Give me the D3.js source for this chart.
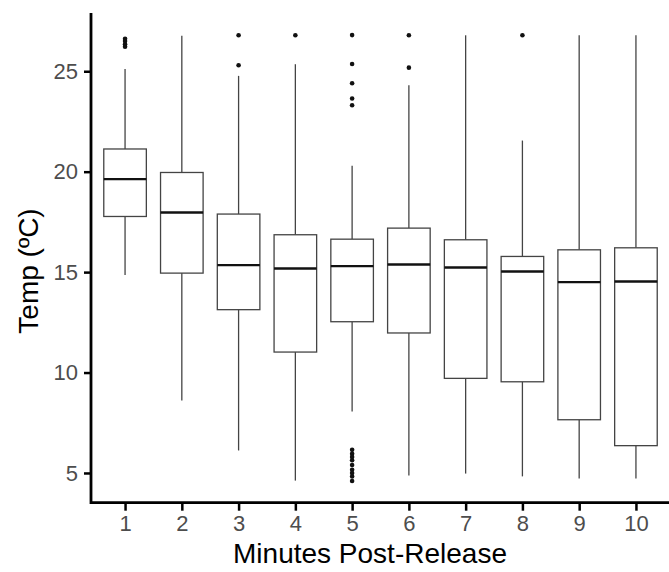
<!DOCTYPE html>
<html>
<head>
<meta charset="utf-8">
<script src="https://cdn.jsdelivr.net/npm/d3@7"></script>
<style>
  body { margin: 0; background: #fff; }
  svg { display: block; font-family: "Liberation Sans", Arial, sans-serif; }
</style>
</head>
<body>
<svg id="chart" width="669" height="572"></svg>
<script>
const minutes = [1, 2, 3, 4, 5, 6, 7, 8, 9, 10]
const whiskerLow = [14.85, 8.61, 6.12, 4.62, 8.06, 4.88, 4.97, 4.83, 4.72, 4.72]
const q1 = [17.77, 14.95, 13.13, 11.02, 12.53, 11.97, 9.71, 9.54, 7.65, 6.36]
const medians = [19.63, 17.97, 15.35, 15.18, 15.3, 15.38, 15.23, 15.03, 14.5, 14.53]
const q3 = [21.13, 19.96, 17.89, 16.86, 16.64, 17.19, 16.61, 15.78, 16.11, 16.21]
const whiskerHigh = [25.11, 26.77, 24.77, 25.35, 20.3, 24.3, 26.79, 21.55, 26.79, 26.79]

// [minute, value]
const outliers = [
  [1, 26.62], [1, 26.5], [1, 26.35], [1, 26.22],
  [3, 26.79], [3, 25.3],
  [4, 26.79],
  [5, 26.8], [5, 25.36], [5, 24.4], [5, 23.64], [5, 23.31],
  [5, 6.15], [5, 5.96], [5, 5.8], [5, 5.63], [5, 5.4], [5, 5.16], [5, 5.0], [5, 4.83], [5, 4.6],
  [6, 26.79], [6, 25.18],
  [8, 26.79]
]

const yTicks = [5, 10, 15, 20, 25]

const mLeft = 91
const mRight = 670
const mTop = 13
const mBottom = 502.7

const svg = d3.select("#chart")

const x = d3.scaleLinear([0.4, 10.6], [mLeft, mRight])
const y = d3.scaleLinear([3.52, 27.9], [mBottom, mTop])
const boxW = (x(1) - x(0)) * 0.75

const boxes = minutes.map((m, i) => ({
  m,
  lo: whiskerLow[i],
  q1: q1[i],
  med: medians[i],
  q3: q3[i],
  hi: whiskerHigh[i]
}))

const g = svg.append("g").classed("boxes", true)

// whiskers
g.selectAll("line.whisk-hi")
  .data(boxes)
  .join("line")
  .classed("whisk-hi", true)
  .attr("x1", (d) => x(d.m))
  .attr("x2", (d) => x(d.m))
  .attr("y1", (d) => y(d.q3))
  .attr("y2", (d) => y(d.hi))
  .attr("stroke", "#444")
  .attr("stroke-width", 1.3)

g.selectAll("line.whisk-lo")
  .data(boxes)
  .join("line")
  .classed("whisk-lo", true)
  .attr("x1", (d) => x(d.m))
  .attr("x2", (d) => x(d.m))
  .attr("y1", (d) => y(d.q1))
  .attr("y2", (d) => y(d.lo))
  .attr("stroke", "#444")
  .attr("stroke-width", 1.3)

// boxes
g.selectAll("rect.box")
  .data(boxes)
  .join("rect")
  .classed("box", true)
  .attr("x", (d) => x(d.m) - boxW / 2)
  .attr("width", boxW)
  .attr("y", (d) => y(d.q3))
  .attr("height", (d) => y(d.q1) - y(d.q3))
  .attr("fill", "#fff")
  .attr("stroke", "#444")
  .attr("stroke-width", 1.3)

// medians
g.selectAll("line.median")
  .data(boxes)
  .join("line")
  .classed("median", true)
  .attr("x1", (d) => x(d.m) - boxW / 2)
  .attr("x2", (d) => x(d.m) + boxW / 2)
  .attr("y1", (d) => y(d.med))
  .attr("y2", (d) => y(d.med))
  .attr("stroke", "#111")
  .attr("stroke-width", 2.4)

// outliers
svg.append("g")
  .selectAll("circle")
  .data(outliers)
  .join("circle")
  .attr("cx", (d) => x(d[0]))
  .attr("cy", (d) => y(d[1]))
  .attr("r", 2.3)
  .attr("fill", "#111")

// axes
const yAxis = svg.append("g")
  .attr("transform", `translate(${mLeft},0)`)
  .call(d3.axisLeft(y).tickValues(yTicks).tickSize(7).tickPadding(6))
const xAxis = svg.append("g")
  .attr("transform", `translate(0,${mBottom})`)
  .call(d3.axisBottom(x).tickValues(minutes).tickSize(8).tickPadding(5))

;[yAxis, xAxis].forEach((a) => {
  a.select(".domain").remove()
  a.selectAll(".tick line").attr("stroke", "#000").attr("stroke-width", 2.5)
  a.selectAll(".tick text")
    .attr("fill", "#4d4d4d")
    .style("font-size", "22px")
    .style("font-family", "'Liberation Sans', Arial, sans-serif")
})

// axis lines
svg.append("path")
  .attr("d", `M${mLeft},${mTop}V${mBottom}H${mRight}`)
  .attr("fill", "none")
  .attr("stroke", "#000")
  .attr("stroke-width", 2.8)

// titles
svg.append("text")
  .attr("x", 370)
  .attr("y", 563)
  .attr("text-anchor", "middle")
  .style("font-size", "28px")
  .text("Minutes Post-Release")

svg.append("text")
  .attr("transform", "translate(38,271) rotate(-90)")
  .attr("text-anchor", "middle")
  .style("font-size", "28px")
  .text("Temp (ºC)")
</script>
</body>
</html>
